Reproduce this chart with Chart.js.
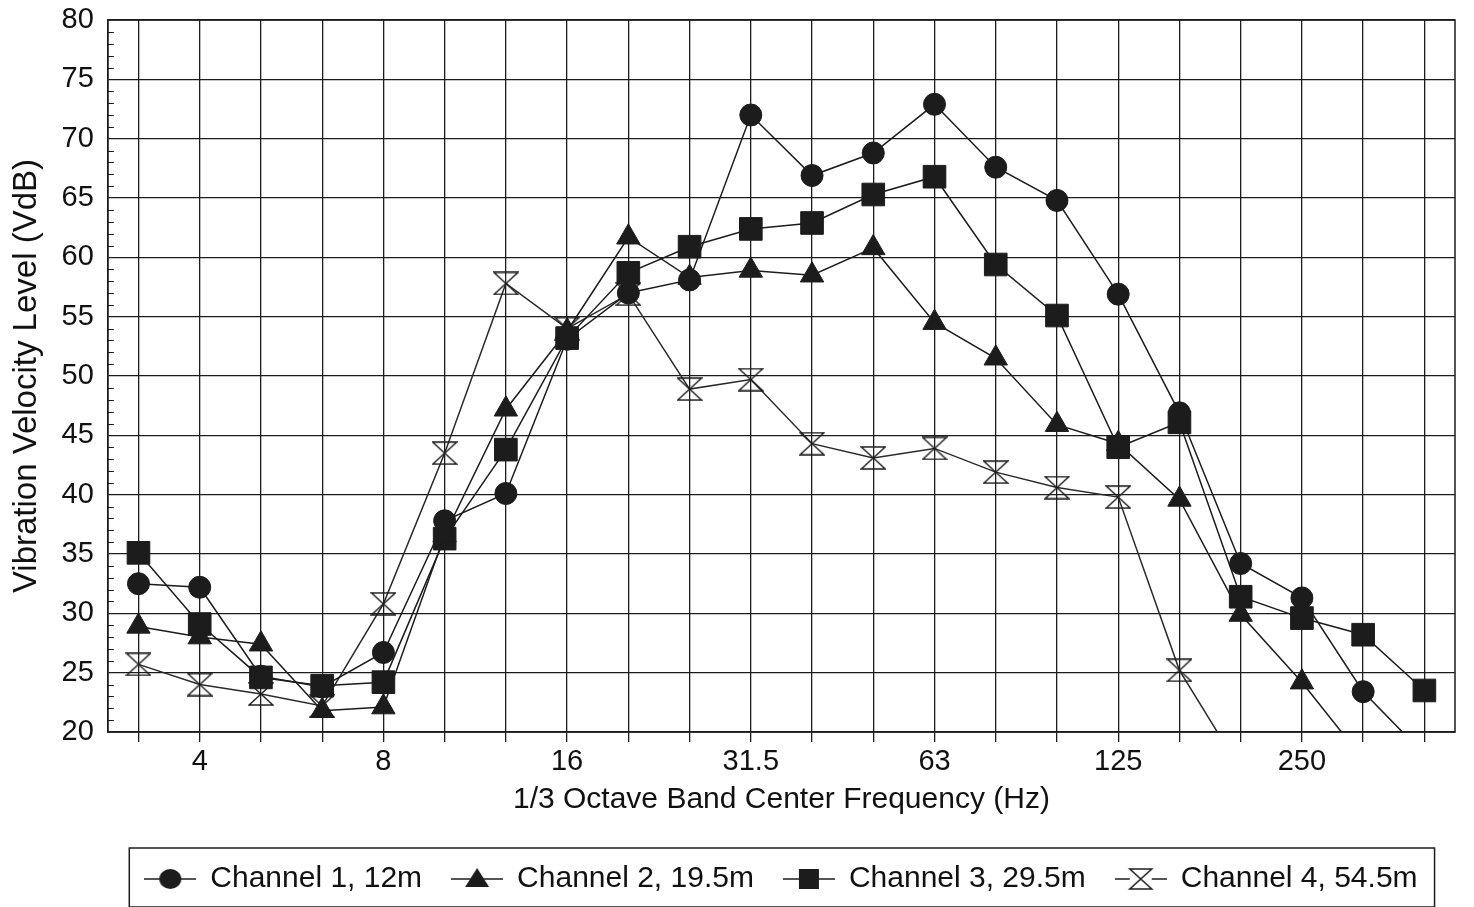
<!DOCTYPE html>
<html>
<head>
<meta charset="utf-8">
<title>Vibration Velocity Level vs 1/3 Octave Band</title>
<script src="https://cdn.jsdelivr.net/npm/chart.js@4/dist/chart.umd.min.js"></script>
<style>
  html, body { margin: 0; padding: 0; background: #fff; }
  #chart { display: block; }
</style>
</head>
<body>
<canvas id="chart" width="1474" height="907"></canvas>
<script>
// 1/3 octave band centre frequencies (Hz)
const bands = ['3.15', '4', '5', '6.3', '8', '10', '12.5', '16', '20', '25', '31.5',
  '40', '50', '63', '80', '100', '125', '160', '200', '250', '315', '400'];

// bands that get a printed label on the x axis
const labelledBands = ['4', '8', '16', '31.5', '63', '125', '250'];

const seriesNames = ['Channel 1, 12m', 'Channel 2, 19.5m', 'Channel 3, 29.5m', 'Channel 4, 54.5m'];

// Levels in VdB (values under 20 run off the bottom of the plot)
const ch1 = [32.5, 32.2, 24.7, 23.8, 26.7, 37.8, 40.1, 53.1, 57.0, 58.1, 72.0,
  66.9, 68.8, 72.9, 67.6, 64.8, 56.9, 46.9, 34.2, 31.3, 23.4, 18.1];
const ch2 = [28.9, 28.0, 27.4, 21.8, 22.1, 36.6, 47.2, 53.8, 61.7, 58.3, 58.9,
  58.5, 60.8, 54.5, 51.5, 45.9, 44.3, 39.6, 29.9, 24.2, 17.7, null];
const ch3 = [35.1, 29.1, 24.6, 23.9, 24.2, 36.3, 43.8, 53.2, 58.7, 60.9, 62.4,
  62.9, 65.3, 66.8, 59.4, 55.1, 44.0, 46.1, 31.4, 29.6, 28.2, 23.5];
const ch4 = [25.7, 24.0, 23.2, 22.2, 30.8, 43.5, 57.8, 54.0, 56.9, 48.9, 49.7,
  44.3, 43.1, 43.9, 41.9, 40.6, 39.8, 25.2, 16.8, null, null, null];

const yMin = 20;
const yMax = 80;
const yStep = 5;

const INK = '#1c1c1c';
const FONT = "'Liberation Sans', Arial, Helvetica, sans-serif";

Chart.defaults.font.family = FONT;
Chart.defaults.color = '#111';

// hourglass marker used by channel 4
function drawHourglass(g, cx, cy, w, h) {
  g.beginPath();
  g.moveTo(cx - w / 2, cy - h / 2);
  g.lineTo(cx + w / 2, cy - h / 2);
  g.lineTo(cx - w / 2, cy + h / 2);
  g.lineTo(cx + w / 2, cy + h / 2);
  g.closePath();
  g.stroke();
}

function makeHourglass(w, h) {
  const c = document.createElement('canvas');
  c.width = w + 2;
  c.height = h + 2;
  const g = c.getContext('2d');
  g.strokeStyle = INK;
  g.lineWidth = 1.5;
  drawHourglass(g, c.width / 2, c.height / 2, w, h);
  return c;
}

// legend swatch: a short line with the marker in the middle
function makeLegendIcon(kind) {
  const c = document.createElement('canvas');
  c.width = 52;
  c.height = 26;
  const g = c.getContext('2d');
  const cx = 26, cy = 13;
  g.strokeStyle = INK;
  g.fillStyle = INK;
  g.lineWidth = 1.5;
  g.beginPath();
  g.moveTo(0, cy);
  g.lineTo(52, cy);
  g.stroke();
  g.beginPath();
  if (kind === 'circle') {
    g.ellipse(cx, cy, 11, 10, 0, 0, Math.PI * 2);
    g.fill();
  } else if (kind === 'triangle') {
    g.moveTo(cx, cy - 11);
    g.lineTo(cx + 12, cy + 8);
    g.lineTo(cx - 12, cy + 8);
    g.closePath();
    g.fill();
  } else if (kind === 'rect') {
    g.rect(cx - 10, cy - 10, 20, 20);
    g.fill();
  } else {
    g.fillStyle = '#fff';
    g.fillRect(cx - 11, cy - 10, 22, 20);
    drawHourglass(g, cx, cy, 22, 20);
  }
  return c;
}

const hourglass = makeHourglass(24, 22);
const legendIcons = ['circle', 'triangle', 'rect', 'hourglass'].map(makeLegendIcon);

function lineSet(label, data, style, radius) {
  return {
    label,
    data,
    borderColor: INK,
    backgroundColor: INK,
    borderWidth: 1.5,
    pointStyle: style,
    pointRadius: radius,
    pointHoverRadius: radius,
    pointBackgroundColor: INK,
    pointBorderColor: INK,
    pointBorderWidth: 1,
    tension: 0,
    spanGaps: false
  };
}

// right-hand frame, minor ticks on the y axis and the box round the legend
const framePlugin = {
  id: 'frame',
  afterDraw(chart) {
    const { ctx, chartArea } = chart;
    const y = chart.scales.y;
    ctx.save();
    ctx.strokeStyle = INK;
    ctx.lineWidth = 1.5;
    ctx.strokeRect(chartArea.left, chartArea.top, chartArea.right - chartArea.left, chartArea.bottom - chartArea.top);

    ctx.lineWidth = 1.2;
    ctx.beginPath();
    for (let v = yMin + 1; v < yMax; v++) {
      if (v % yStep === 0) continue;
      const py = Math.round(y.getPixelForValue(v)) + 0.5;
      ctx.moveTo(chartArea.left, py);
      ctx.lineTo(chartArea.left + 6, py);
    }
    ctx.stroke();

    const boxes = chart.legend.legendHitBoxes;
    if (boxes && boxes.length) {
      const first = boxes[0];
      const last = boxes[boxes.length - 1];
      const left = first.left - 16;
      const right = last.left + last.width + 17;
      const top = first.top - 16;
      const bottom = first.top + first.height + 13;
      ctx.lineWidth = 1.5;
      ctx.strokeRect(left, top, right - left, bottom - top);
    }
    ctx.restore();
  }
};

const ctx = document.getElementById('chart').getContext('2d');

new Chart(ctx, {
  type: 'line',
  data: {
    labels: bands,
    datasets: [
      lineSet(seriesNames[0], ch1, 'circle', 11),
      lineSet(seriesNames[1], ch2, 'triangle', 13.5),
      lineSet(seriesNames[2], ch3, 'rect', 16),
      Object.assign(lineSet(seriesNames[3], ch4, hourglass, 12), { borderColor: '#2a2a2a' })
    ]
  },
  options: {
    responsive: false,
    animation: false,
    layout: { padding: { left: 2, right: 19, top: 0, bottom: 3 } },
    scales: {
      x: {
        offset: true,
        grid: {
          color: INK,
          lineWidth: 1.3,
          tickLength: 10,
          tickColor: INK,
          tickWidth: 1.3
        },
        border: { display: true, color: INK, width: 1.5 },
        ticks: {
          autoSkip: false,
          maxRotation: 0,
          padding: 5,
          color: '#111',
          font: { size: 29, lineHeight: 1 },
          callback(value) {
            const lbl = this.getLabelForValue(value);
            return labelledBands.includes(lbl) ? lbl : '';
          }
        },
        title: {
          display: true,
          text: '1/3 Octave Band Center Frequency (Hz)',
          color: '#111',
          font: { size: 30 },
          padding: { top: 1, bottom: 16 }
        }
      },
      y: {
        min: yMin,
        max: yMax,
        grid: {
          color: INK,
          lineWidth: 1.3,
          drawTicks: false
        },
        border: { display: true, color: INK, width: 1.5 },
        ticks: {
          stepSize: yStep,
          padding: 14,
          color: '#111',
          // small line height keeps the top of the plot close to the canvas edge
          font: { size: 29, lineHeight: 0.42 }
        },
        title: {
          display: true,
          text: 'Vibration Velocity Level (VdB)',
          color: '#111',
          font: { size: 33 },
          padding: { top: 5, bottom: 1 }
        }
      }
    },
    plugins: {
      legend: {
        position: 'bottom',
        fullSize: false,
        labels: {
          usePointStyle: true,
          pointStyleWidth: 50,
          padding: 30,
          color: '#111',
          font: { size: 30 },
          generateLabels(chart) {
            const items = Chart.defaults.plugins.legend.labels.generateLabels(chart);
            return items.map(item => Object.assign(item, {
              pointStyle: legendIcons[item.datasetIndex],
              rotation: 0
            }));
          }
        }
      },
      tooltip: { enabled: false }
    }
  },
  plugins: [framePlugin]
});
</script>
</body>
</html>
